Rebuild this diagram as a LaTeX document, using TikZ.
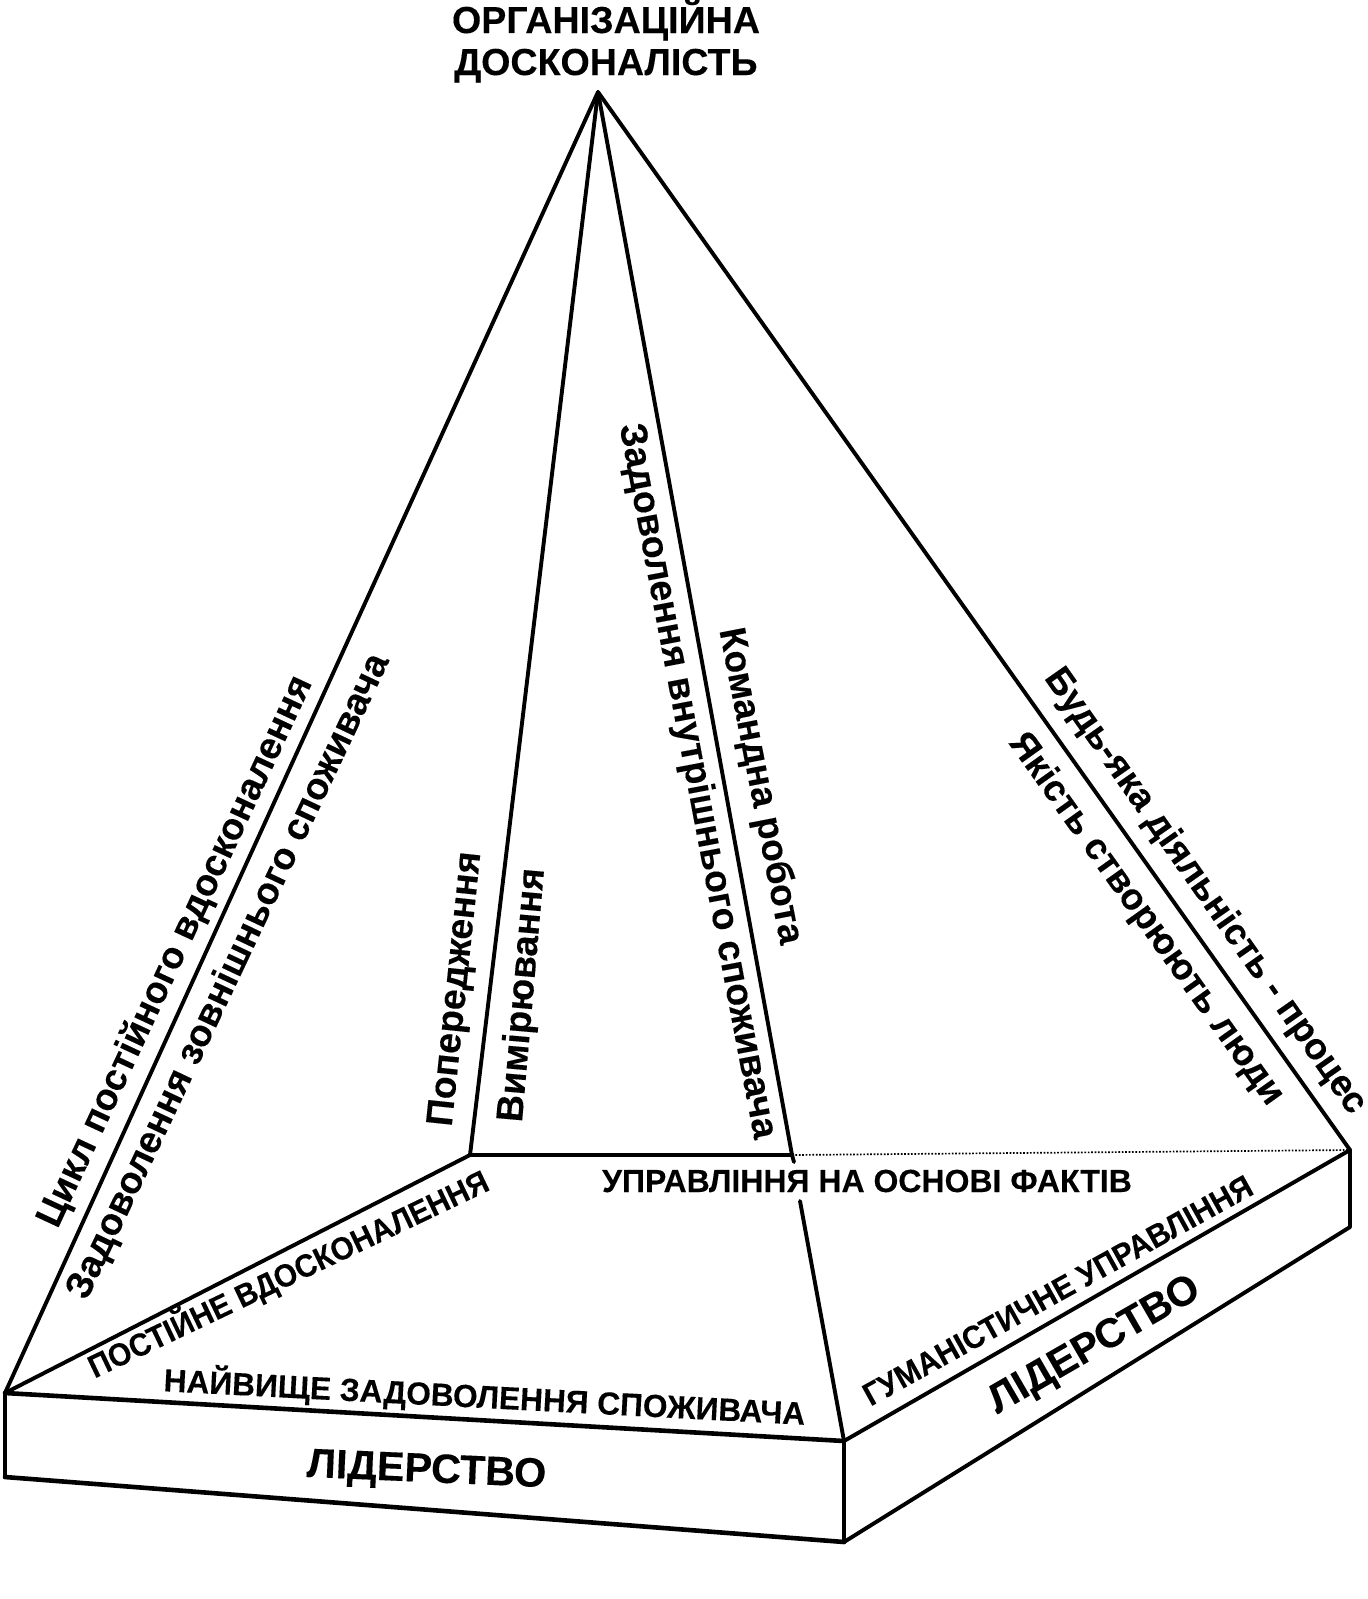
\documentclass[tikz,border=0pt]{standalone}
\usepackage{fontspec}
\usepackage{graphicx}
\setmainfont{Liberation Sans}
\newcommand\tx[3]{\scalebox{#1}[1]{\fontsize{#2pt}{#2pt}\selectfont\bfseries\addfontfeature{FakeBold=0.2} #3}}
\tikzset{
  lbl/.style={inner sep=0pt,anchor=base,text=black},
  edge/.style={line width=3.9pt,line cap=round,line join=round,draw=black},
  thick edge/.style={line width=4.6pt,line cap=round,line join=round,draw=black},
  dots/.style={line width=1.7pt,draw=black,dash pattern=on 1.7pt off 1.7pt}
}
\begin{document}
\begin{tikzpicture}[x=1pt,y=-1pt]
\useasboundingbox (0,0) rectangle (1368,1599);
\coordinate (apex) at (598,92);
\coordinate (A) at (5,1393);
\coordinate (B) at (844,1441);
\coordinate (C) at (1350,1150);
\coordinate (D) at (470,1155);
\coordinate (E) at (792,1155);
\coordinate (A2) at (5,1477);
\coordinate (B2) at (844,1542);
\coordinate (C2) at (1350,1227);
\coordinate (F) at (794,1162);
\coordinate (G) at (800,1201);
\draw[edge] (A) -- (apex) -- (C);
\draw[edge] (apex) -- (D);
\draw[edge] (apex) -- (E);
\draw[edge] (D) -- (A);
\draw[thick edge] (A) -- (B);
\draw[thick edge] (D) -- (E);
\draw[edge] (E) -- (F);
\draw[edge] (G) -- (B);
\draw[edge] (B) -- (C) -- (C2) -- (B2) -- (B);
\draw[edge] (A) -- (A2);
\draw[thick edge] (A2) -- (B2);
\draw[dots] (E) -- (C);
\node[lbl] (t1) at (606,33) {\tx{1}{37.6}{ОРГАНІЗАЦІЙНА}};
\node[lbl] (t2) at (606,75) {\tx{1}{37.6}{ДОСКОНАЛІСТЬ}};
\node[lbl,rotate=65] (a1) at (185,956) {\tx{1}{37.6}{Цикл постійного вдосконалення}};
\node[lbl,rotate=64.7] (a2) at (238,981) {\tx{1}{37.8}{Задоволення зовнішнього споживача}};
\node[lbl,rotate=84] (b1) at (466,990) {\tx{1}{37.6}{Попередження}};
\node[lbl,rotate=85] (b2) at (533,996) {\tx{1}{37.6}{Вимірювання}};
\node[lbl,rotate=-79.3] (c1) at (687,783) {\tx{1}{37.6}{Задоволення внутрішнього споживача}};
\node[lbl,rotate=-79] (c2) at (750,788) {\tx{1}{37.2}{Командна робота}};
\node[lbl,rotate=-55] (d1) at (1197,897) {\tx{1}{37}{Будь-яка діяльність - процес}};
\node[lbl,rotate=-54.5] (d2) at (1138,925) {\tx{1}{37}{Якість створюють люди}};
\node[lbl] (e1) at (867,1192) {\tx{1}{32}{УПРАВЛІННЯ НА ОСНОВІ ФАКТІВ}};
\node[lbl,rotate=25.5] (e2) at (293,1284) {\tx{0.93}{32}{ПОСТІЙНЕ ВДОСКОНАЛЕННЯ}};
\node[lbl,rotate=-3] (e3) at (484,1408) {\tx{0.99}{32}{НАЙВИЩЕ ЗАДОВОЛЕННЯ СПОЖИВАЧА}};
\node[lbl,rotate=29] (e4) at (1063,1300) {\tx{0.94}{32}{ГУМАНІСТИЧНЕ УПРАВЛІННЯ}};
\node[lbl,rotate=-2.5] (f1) at (426,1482) {\tx{1.01}{41}{ЛІДЕРСТВО}};
\node[lbl,rotate=30] (f2) at (1100,1355) {\tx{1}{41}{ЛІДЕРСТВО}};
\end{tikzpicture}
\end{document}
